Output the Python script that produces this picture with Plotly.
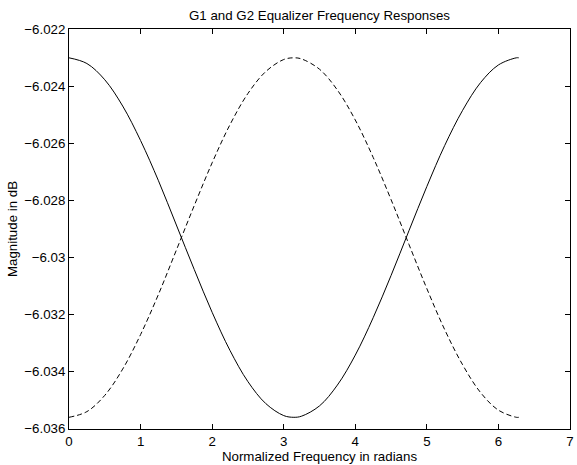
import plotly.graph_objects as go

freq = [0, 0.25, 0.5, 0.75, 1.0, 1.25, 1.5, 1.75, 2.0, 2.25, 2.5, 2.75, 3.0, 3.1416,
        3.25, 3.5, 3.75, 4.0, 4.25, 4.5, 4.75, 5.0, 5.25, 5.5, 5.75, 6.0, 6.25, 6.2832]
g1_db = [-6.0230, -6.02320, -6.02377, -6.02469, -6.02590, -6.02731, -6.02886, -6.03042,
         -6.03192, -6.03326, -6.03435, -6.03512, -6.03554, -6.0356, -6.03556, -6.03520,
         -6.03447, -6.03342, -6.03211, -6.03063, -6.02906, -6.02751, -6.02607, -6.02484,
         -6.02387, -6.02325, -6.02300, -6.0230]
g2_db = [-6.0356, -6.03540, -6.03483, -6.03391, -6.03270, -6.03129, -6.02974, -6.02818,
         -6.02668, -6.02534, -6.02425, -6.02348, -6.02306, -6.0230, -6.02304, -6.02340,
         -6.02413, -6.02518, -6.02649, -6.02797, -6.02954, -6.03109, -6.03253, -6.03376,
         -6.03473, -6.03535, -6.03560, -6.0356]

x_ticks = [0, 1, 2, 3, 4, 5, 6, 7]
y_ticks = [-6.036, -6.034, -6.032, -6.030, -6.028, -6.026, -6.024, -6.022]
y_labels = ["\u22126.036", "\u22126.034", "\u22126.032", "\u22126.03",
            "\u22126.028", "\u22126.026", "\u22126.024", "\u22126.022"]

fig = go.Figure()
fig.add_trace(go.Scatter(x=freq, y=g1_db, mode="lines", line=dict(color="black", width=1, shape="spline"),
                         showlegend=False))
fig.add_trace(go.Scatter(x=freq, y=g2_db, mode="lines",
                         line=dict(color="black", width=1, dash="5px,3px", shape="spline"),
                         showlegend=False))

font = dict(family="Liberation Sans, Arial, sans-serif", size=13.3, color="black")
fig.update_layout(
    width=577, height=465,
    margin=dict(l=69, r=3, t=29, b=36),
    paper_bgcolor="white", plot_bgcolor="white",
    font=font,
    title=dict(text="G1 and G2 Equalizer Frequency Responses", x=0.5, xref="paper",
               xanchor="center", y=1 - 15 / 465, yanchor="middle", font=font),
)
fig.update_xaxes(range=[-0.0001, 7.0002], tickvals=x_ticks, ticks="inside", ticklen=5, tickcolor="black",
                 ticklabeloverflow="allow",
                 showline=True, linecolor="black", linewidth=1, mirror="ticks", showgrid=False,
                 zeroline=False, title=dict(text="Normalized Frequency in radians", standoff=1, font=font))
fig.update_yaxes(range=[-6.03601, -6.02199], tickvals=y_ticks, ticktext=y_labels, ticks="inside",
                 ticklen=5, tickcolor="black", showline=True, linecolor="black", linewidth=1,
                 mirror="ticks", showgrid=False, zeroline=False,
                 title=dict(text="Magnitude in dB", standoff=3, font=font))

fig.write_html("out.html")
